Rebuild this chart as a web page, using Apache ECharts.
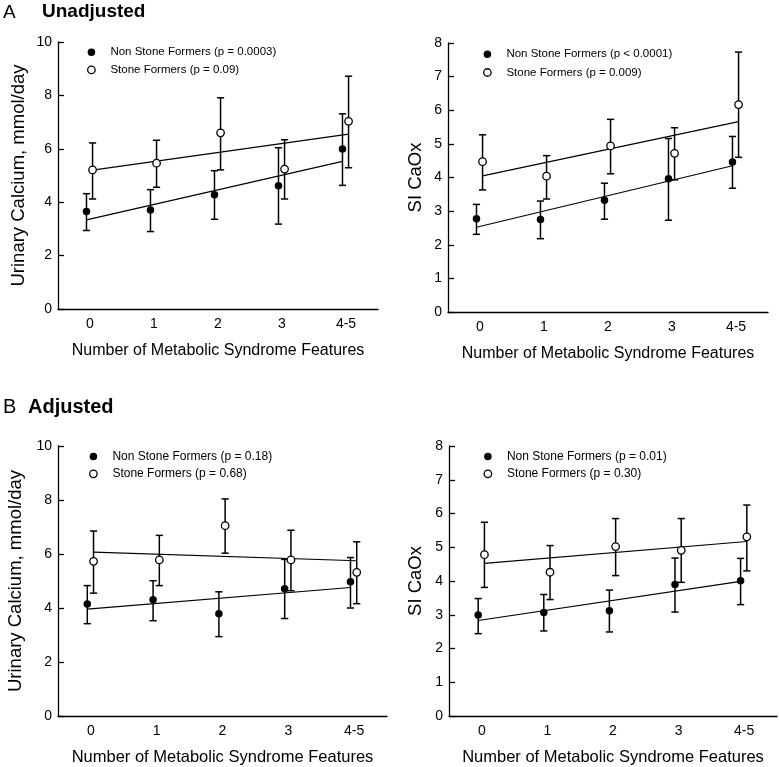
<!DOCTYPE html>
<html>
<head>
<meta charset="utf-8">
<script src="https://cdn.jsdelivr.net/npm/echarts@6/dist/echarts.min.js"></script>
<style>
html,body{margin:0;padding:0;background:#fff;}
#chart{width:779px;height:767px;}
</style>
</head>
<body>
<div id="chart"></div>
<script>
// ---------- data ----------
const categories = ['0', '1', '2', '3', '4-5'];

// Panel A (unadjusted) – urinary calcium, mmol/day
const a1NsfMean = [3.65, 3.71, 4.28, 4.62, 5.99];
const a1NsfLow  = [2.94, 2.90, 3.36, 3.18, 4.63];
const a1NsfHigh = [4.32, 4.47, 5.18, 6.04, 7.31];
const a1SfMean  = [5.21, 5.46, 6.60, 5.24, 7.03];
const a1SfLow   = [4.12, 4.56, 5.21, 4.12, 5.29];
const a1SfHigh  = [6.22, 6.32, 7.91, 6.34, 8.72];
const a1NsfFit  = [3.34, 5.53];
const a1SfFit   = [5.20, 6.55];

// Panel A (unadjusted) – SI CaOx
const a2NsfMean = [2.77, 2.75, 3.32, 3.96, 4.46];
const a2NsfLow  = [2.31, 2.18, 2.76, 2.73, 3.68];
const a2NsfHigh = [3.20, 3.30, 3.83, 5.16, 5.22];
const a2SfMean  = [4.47, 4.04, 4.94, 4.72, 6.17];
const a2SfLow   = [3.63, 3.36, 4.11, 3.93, 4.60];
const a2SfHigh  = [5.27, 4.65, 5.73, 5.48, 7.73];
const a2NsfFit  = [2.52, 4.35];
const a2SfFit   = [4.05, 5.66];

// Panel B (adjusted) – urinary calcium, mmol/day
const b1NsfMean = [4.15, 4.31, 3.79, 4.71, 4.97];
const b1NsfLow  = [3.42, 3.53, 2.94, 3.61, 4.00];
const b1NsfHigh = [4.83, 5.01, 4.60, 5.80, 5.87];
const b1SfMean  = [5.73, 5.78, 7.05, 5.78, 5.32];
const b1SfLow   = [4.55, 4.83, 6.03, 4.64, 4.16];
const b1SfHigh  = [6.85, 6.69, 8.04, 6.88, 6.45];
const b1NsfFit  = [3.96, 4.76];
const b1SfFit   = [6.07, 5.75];

// Panel B (adjusted) – SI CaOx
const b2NsfMean = [2.99, 3.07, 3.12, 3.90, 4.01];
const b2NsfLow  = [2.44, 2.52, 2.49, 3.08, 3.30];
const b2NsfHigh = [3.48, 3.60, 3.73, 4.68, 4.67];
const b2SfMean  = [4.78, 4.26, 5.02, 4.91, 5.31];
const b2SfLow   = [3.81, 3.45, 4.16, 3.96, 4.30];
const b2SfHigh  = [5.74, 5.05, 5.85, 5.85, 6.25];
const b2NsfFit  = [2.83, 3.99];
const b2SfFit   = [4.52, 5.17];

const legendA1 = ['Non Stone Formers (p = 0.0003)', 'Stone Formers (p = 0.09)'];
const legendA2 = ['Non Stone Formers (p < 0.0001)', 'Stone Formers (p = 0.009)'];
const legendB1 = ['Non Stone Formers (p = 0.18)', 'Stone Formers (p = 0.68)'];
const legendB2 = ['Non Stone Formers (p = 0.01)', 'Stone Formers (p = 0.30)'];

const xTitle = 'Number of Metabolic Syndrome Features';
const yTitleCa = 'Urinary Calcium, mmol/day';
const yTitleSi = 'SI CaOx';

// ---------- layout / style ----------
const FONT = "'Liberation Sans', Arial, sans-serif";
const NSF_OFF = -0.055;
const SF_OFF = 0.04;

const panels = [
  { grid: {left: 58, top: 42, width: 320, height: 267}, yMax: 10, yInt: 2, yName: yTitleCa, yGap: 30, xGap: 34, xNameSize: 16, legendFont: 11.5,
    legendPos: {left: 87, top: 46.3, gap: 5.6}, leg: legendA1,
    nsf: [a1NsfMean, a1NsfLow, a1NsfHigh, a1NsfFit], sf: [a1SfMean, a1SfLow, a1SfHigh, a1SfFit] },
  { grid: {left: 448, top: 43, width: 320, height: 269}, yMax: 8, yInt: 1, yName: yTitleSi, yGap: 23, xGap: 34, xNameSize: 16, legendFont: 11.5,
    legendPos: {left: 483, top: 48.3, gap: 6.2}, leg: legendA2,
    nsf: [a2NsfMean, a2NsfLow, a2NsfHigh, a2NsfFit], sf: [a2SfMean, a2SfLow, a2SfHigh, a2SfFit] },
  { grid: {left: 58, top: 446, width: 329, height: 271}, yMax: 10, yInt: 2, yName: yTitleCa, yGap: 33, xGap: 33, xNameSize: 16.5, legendFont: 12,
    legendPos: {left: 89, top: 450.5, gap: 5.3}, leg: legendB1,
    nsf: [b1NsfMean, b1NsfLow, b1NsfHigh, b1NsfFit], sf: [b1SfMean, b1SfLow, b1SfHigh, b1SfFit] },
  { grid: {left: 449, top: 446, width: 328, height: 271}, yMax: 8, yInt: 1, yName: yTitleSi, yGap: 24, xGap: 33, xNameSize: 16.5, legendFont: 12,
    legendPos: {left: 483.5, top: 450.5, gap: 5.3}, leg: legendB2,
    nsf: [b2NsfMean, b2NsfLow, b2NsfHigh, b2NsfFit], sf: [b2SfMean, b2SfLow, b2SfHigh, b2SfFit] }
];

function errorBarRender(params, api) {
  const x = api.value(0);
  const lo = api.coord([x, api.value(1)]);
  const hi = api.coord([x, api.value(2)]);
  const w = 3.6;
  const st = {stroke: '#000', lineWidth: 1.5};
  return {
    type: 'group',
    children: [
      {type: 'line', shape: {x1: lo[0], y1: lo[1], x2: hi[0], y2: hi[1]}, style: st},
      {type: 'line', shape: {x1: lo[0] - w, y1: lo[1], x2: lo[0] + w, y2: lo[1]}, style: st},
      {type: 'line', shape: {x1: hi[0] - w, y1: hi[1], x2: hi[0] + w, y2: hi[1]}, style: st}
    ]
  };
}

const grids = [], xAxes = [], yAxes = [], series = [], legends = [];

panels.forEach((p, gi) => {
  grids.push(Object.assign({containLabel: false}, p.grid));
  xAxes.push({
    type: 'category', gridIndex: gi, data: categories, boundaryGap: true,
    axisLine: {onZero: false, lineStyle: {color: '#000', width: 1.3}},
    axisTick: {alignWithLabel: true, inside: true, length: 6, lineStyle: {color: '#000', width: 1.3}},
    axisLabel: {color: '#000', fontSize: 14, fontFamily: FONT, margin: 8},
    name: xTitle, nameLocation: 'middle', nameGap: p.xGap,
    nameTextStyle: {color: '#000', fontSize: p.xNameSize, fontFamily: FONT},
    splitLine: {show: false}
  });
  const valIdx = xAxes.length;
  xAxes.push({type: 'value', gridIndex: gi, min: -0.5, max: 4.5, show: false,
    axisLine: {onZero: false}, splitLine: {show: false}});
  yAxes.push({
    type: 'value', gridIndex: gi, min: 0, max: p.yMax, interval: p.yInt,
    axisLine: {show: true, onZero: false, lineStyle: {color: '#000', width: 1.3}},
    axisTick: {show: true, inside: true, length: 6, lineStyle: {color: '#000', width: 1.3}},
    axisLabel: {color: '#000', fontSize: 14, fontFamily: FONT, margin: 6},
    splitLine: {show: false},
    name: p.yName, nameLocation: 'middle', nameGap: p.yGap,
    nameTextStyle: {color: '#000', fontSize: 18.5, fontFamily: FONT}
  });

  const groups = [
    {d: p.nsf, off: NSF_OFF, name: p.leg[0], style: {color: '#000'}},
    {d: p.sf, off: SF_OFF, name: p.leg[1], style: {color: '#fff', borderColor: '#000', borderWidth: 1.3}}
  ];
  groups.forEach((g, k) => {
    const [mean, low, high, fit] = g.d;
    series.push({
      type: 'custom', name: 'err' + gi + '_' + k, xAxisIndex: valIdx, yAxisIndex: gi,
      renderItem: errorBarRender, encode: {x: 0, y: [1, 2]}, z: 2, silent: true,
      data: categories.map((c, i) => [i + g.off, low[i], high[i]])
    });
    series.push({
      type: 'line', name: 'fit' + gi + '_' + k, xAxisIndex: valIdx, yAxisIndex: gi,
      showSymbol: false, symbol: 'none', z: 3, silent: true,
      lineStyle: {color: '#000', width: 1.2},
      data: [[0 + g.off, fit[0]], [categories.length - 1 + g.off, fit[1]]]
    });
    series.push({
      type: 'scatter', name: g.name, xAxisIndex: valIdx, yAxisIndex: gi,
      symbol: 'circle', symbolSize: 7.5, z: 5,
      itemStyle: Object.assign({opacity: 1}, g.style),
      data: categories.map((c, i) => [i + g.off, mean[i]])
    });
  });

  legends.push({
    orient: 'vertical', left: p.legendPos.left, top: p.legendPos.top, padding: 0,
    itemGap: p.legendPos.gap, itemWidth: 28, itemHeight: 7.5, selectedMode: false,
    textStyle: {color: '#000', fontSize: p.legendFont, fontFamily: FONT, padding: 0},
    data: [
      {name: p.leg[0], icon: 'circle', itemStyle: {color: '#000', borderWidth: 0}},
      {name: p.leg[1], icon: 'circle', itemStyle: {color: '#fff', borderColor: '#000', borderWidth: 1.3}}
    ]
  });
});

const option = {
  animation: false,
  backgroundColor: '#fff',
  grid: grids,
  xAxis: xAxes,
  yAxis: yAxes,
  legend: legends,
  series: series,
  graphic: [
    {type: 'text', left: 3, top: 3, style: {text: 'A', fill: '#000', font: '19px ' + FONT}},
    {type: 'text', left: 42, top: 2, style: {text: 'Unadjusted', fill: '#000', font: 'bold 19px ' + FONT}},
    {type: 'text', left: 3, top: 397, style: {text: 'B', fill: '#000', font: '20px ' + FONT}},
    {type: 'text', left: 28, top: 397, style: {text: 'Adjusted', fill: '#000', font: 'bold 20px ' + FONT}}
  ]
};

const chart = echarts.init(document.getElementById('chart'), null, {renderer: 'canvas'});
chart.setOption(option);
</script>
</body>
</html>
